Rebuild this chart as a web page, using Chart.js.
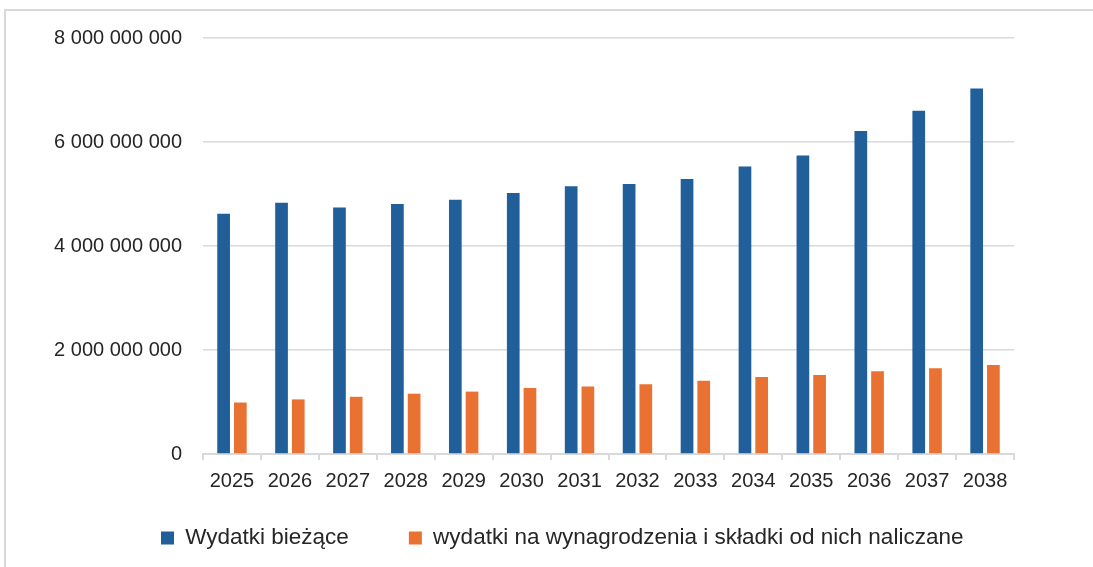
<!DOCTYPE html>
<html>
<head>
<meta charset="utf-8">
<script src="https://cdn.jsdelivr.net/npm/chart.js@4.4.1/dist/chart.umd.min.js"></script>
<style>
  html, body { margin: 0; padding: 0; background: #ffffff; overflow: hidden; }
  #frame { position: absolute; left: 4px; top: 9px; width: 1200px; height: 700px;
           border-top: 2px solid #d9d9d9; border-left: 2px solid #d9d9d9; }
  #wrap { position: absolute; left: 0; top: 0; width: 1093px; height: 567px; }
</style>
</head>
<body>
<div id="frame"></div>
<div id="wrap"><canvas id="c"></canvas></div>
<script>
const categories = ['2025','2026','2027','2028','2029','2030','2031','2032','2033','2034','2035','2036','2037','2038'];
const seriesNames = ['Wydatki bieżące', 'wydatki na wynagrodzenia i składki od nich naliczane'];
const wydatkiBiezace = [4.62e9, 4.83e9, 4.74e9, 4.81e9, 4.89e9, 5.02e9, 5.15e9, 5.19e9, 5.29e9, 5.53e9, 5.74e9, 6.21e9, 6.60e9, 7.03e9];
const wydatkiWynagrodzenia = [0.99e9, 1.05e9, 1.10e9, 1.16e9, 1.20e9, 1.27e9, 1.30e9, 1.34e9, 1.41e9, 1.48e9, 1.52e9, 1.59e9, 1.65e9, 1.71e9];
const yTicks = [0, 2e9, 4e9, 6e9, 8e9];

const LEGEND_FONT = 22.5;
const LEGEND_PAD = 60;

function fmt(v) {
  return String(Math.round(v)).replace(/\B(?=(\d{3})+(?!\d))/g, ' ');
}

const legendPlacer = {
  id: 'legendPlacer',
  afterLayout(chart) {
    const lg = chart.legend;
    if (!lg) return;
    lg.left = 161 - LEGEND_PAD;
    lg.right = chart.width + 300;
    lg.width = lg.right - lg.left;
    lg.top = 538 - LEGEND_PAD - LEGEND_FONT / 2;
    lg.bottom = chart.height;
    lg.height = lg.bottom - lg.top;
  }
};

new Chart(document.getElementById('c'), {
  type: 'bar',
  data: {
    labels: categories,
    datasets: [
      { label: seriesNames[0], data: wydatkiBiezace, backgroundColor: '#215F9A',
        categoryPercentage: 0.577, barPercentage: 0.76 },
      { label: seriesNames[1], data: wydatkiWynagrodzenia, backgroundColor: '#E97132',
        categoryPercentage: 0.577, barPercentage: 0.76 }
    ]
  },
  plugins: [legendPlacer],
  options: {
    responsive: true,
    maintainAspectRatio: false,
    animation: false,
    layout: { padding: { left: 40, right: 79, top: 38, bottom: 0 } },
    plugins: {
      tooltip: { enabled: false },
      legend: {
        position: 'bottom',
        align: 'start',
        maxHeight: 65,
        labels: {
          boxWidth: 13, boxHeight: 13, padding: LEGEND_PAD,
          color: '#262626',
          font: { family: "'Liberation Sans', Arial, sans-serif", size: LEGEND_FONT }
        }
      }
    },
    scales: {
      x: {
        grid: { offset: true, drawOnChartArea: false, drawTicks: true, tickLength: 6,
                color: '#d9d9d9', lineWidth: 2 },
        border: { color: '#d9d9d9', width: 2 },
        ticks: { color: '#262626', padding: 9,
                 font: { family: "'Liberation Sans', Arial, sans-serif", size: 20 } }
      },
      y: {
        min: 0, max: 8e9,
        afterBuildTicks: (s) => { s.ticks = yTicks.map(v => ({ value: v })); },
        grid: { color: '#d9d9d9', lineWidth: 1.5, drawTicks: false },
        border: { display: false },
        ticks: { color: '#262626', padding: 21, callback: (v) => fmt(v),
                 font: { family: "'Liberation Sans', Arial, sans-serif", size: 20 } },
        afterFit: (s) => { s.width = 163; }
      }
    }
  }
});
</script>
</body>
</html>
